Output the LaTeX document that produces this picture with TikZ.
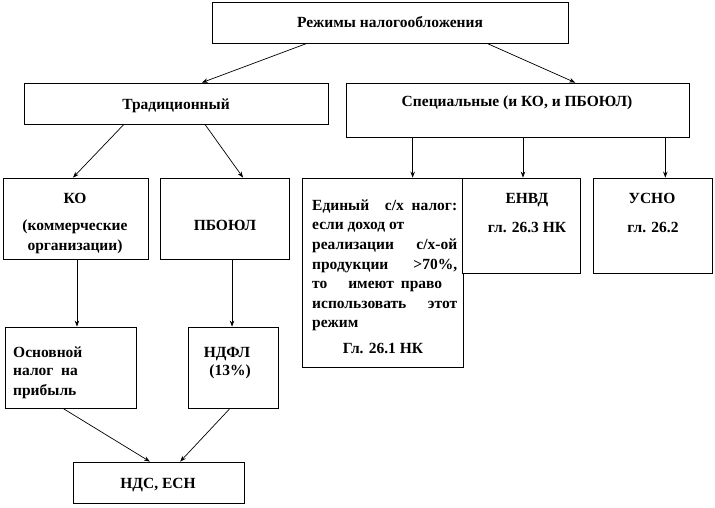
\documentclass[tikz,border=0pt]{standalone}
\usepackage{fontspec}
\setmainfont{Liberation Serif}
\usetikzlibrary{arrows.meta,calc}
\begin{document}
\begin{tikzpicture}[x=1pt,y=-1pt,
  box/.style={draw=black,line width=0.8pt,inner sep=0pt,fill=white},
  txt/.style={inner sep=0pt,anchor=base,font=\fontsize{15.5}{19.6}\selectfont\bfseries},
  ltxt/.style={txt,anchor=base west},
  arr/.style={draw=black,line width=0.7pt,-{Stealth[length=6pt,width=4.5pt]}}]
\useasboundingbox (0,0) rectangle (715,507);
% boxes
\node[box,minimum width=356pt,minimum height=41pt] (top) at (390,22.5) {};
\node[box,minimum width=304pt,minimum height=41pt] (trad) at (176,103.5) {};
\node[box,minimum width=343pt,minimum height=54pt] (spec) at (517.5,110) {};
\node[box,minimum width=145pt,minimum height=81pt] (ko) at (75.5,218.5) {};
\node[box,minimum width=129pt,minimum height=81pt] (pb) at (224.5,218.5) {};
\node[box,minimum width=161pt,minimum height=189pt] (eshn) at (382.5,272.5) {};
\node[box,minimum width=118pt,minimum height=95pt] (envd) at (521,225.5) {};
\node[box,minimum width=119pt,minimum height=95pt] (usno) at (652.5,225.5) {};
\node[box,minimum width=131pt,minimum height=81pt] (osn) at (70.5,367.5) {};
\node[box,minimum width=90pt,minimum height=81pt] (ndfl) at (233,367.5) {};
\node[box,minimum width=171pt,minimum height=41pt] (nds) at (158.5,482.5) {};
% texts
\node[txt] (ttop) at (390,27) {Режимы налогообложения};
\node[txt] (ttrad) at (176,109) {Традиционный};
\node[txt] (tspec) at (517,106) {Специальные (и КО, и ПБОЮЛ)};
\node[txt] (tko1) at (75,203) {КО};
\node[txt] (tko2) at (75,230) {(коммерческие};
\node[txt] (tko3) at (75,250) {организации)};
\node[txt] (tpb) at (225,230) {ПБОЮЛ};
\node[txt] (tenvd1) at (527,203) {ЕНВД};
\node[txt] (tenvd2) at (527,232) {гл. 26.3 НК};
\node[txt] (tusno1) at (652,203) {УСНО};
\node[txt] (tusno2) at (653,232) {гл. 26.2};
\node[ltxt] (te1) at (312,210) {\makebox[145pt][s]{Единый \ с/х налог:}};
\node[ltxt] (te2) at (312,229) {если доход от};
\node[ltxt] (te3) at (312,249) {\makebox[145pt][s]{реализации \ с/х-ой}};
\node[ltxt] (te4) at (312,269) {\makebox[145pt][s]{продукции \ {>}70\%,}};
\node[ltxt] (te5) at (312,288) {\makebox[130pt][s]{то \ \ имеют право}};
\node[ltxt] (te6) at (312,308) {\makebox[145pt][s]{использовать \ этот}};
\node[ltxt] (te7) at (312,327) {режим};
\node[txt] (te8) at (383,353) {Гл. 26.1 НК};
\node[ltxt] (to1) at (13,357) {Основной};
\node[ltxt] (to2) at (13,375) {налог \ на};
\node[ltxt] (to3) at (13,395) {прибыль};
\node[txt] (tn1) at (227,357) {НДФЛ};
\node[txt] (tn2) at (230,375) {(13\%)};
\node[txt] (tnds) at (158,488) {НДС, ЕСН};
% arrows
\draw[arr] ($(top.south west)!0.267!(top.south east)$) -- ($(trad.north west)!0.585!(trad.north east)$);
\draw[arr] ($(top.south west)!0.772!(top.south east)$) -- ($(spec.north west)!0.668!(spec.north east)$);
\draw[arr] ($(trad.south west)!0.329!(trad.south east)$) -- ($(ko.north west)!0.483!(ko.north east)$);
\draw[arr] ($(trad.south west)!0.595!(trad.south east)$) -- ($(pb.north west)!0.643!(pb.north east)$);
\draw[arr] ($(spec.south west)!0.195!(spec.south east)$) coordinate (s1) -- (s1 |- eshn.north);
\draw[arr] ($(spec.south west)!0.516!(spec.south east)$) coordinate (s2) -- (s2 |- envd.north);
\draw[arr] ($(spec.south west)!0.93!(spec.south east)$) coordinate (s3) -- (s3 |- usno.north);
\draw[arr] ($(ko.south west)!0.51!(ko.south east)$) coordinate (s4) -- (s4 |- osn.north);
\draw[arr] ($(pb.south west)!0.558!(pb.south east)$) coordinate (s5) -- (s5 |- ndfl.north);
\draw[arr] ($(osn.south west)!0.443!(osn.south east)$) -- ($(nds.north west)!0.45!(nds.north east)$);
\draw[arr] ($(ndfl.south west)!0.467!(ndfl.south east)$) -- ($(nds.north west)!0.626!(nds.north east)$);
\end{tikzpicture}
\end{document}
